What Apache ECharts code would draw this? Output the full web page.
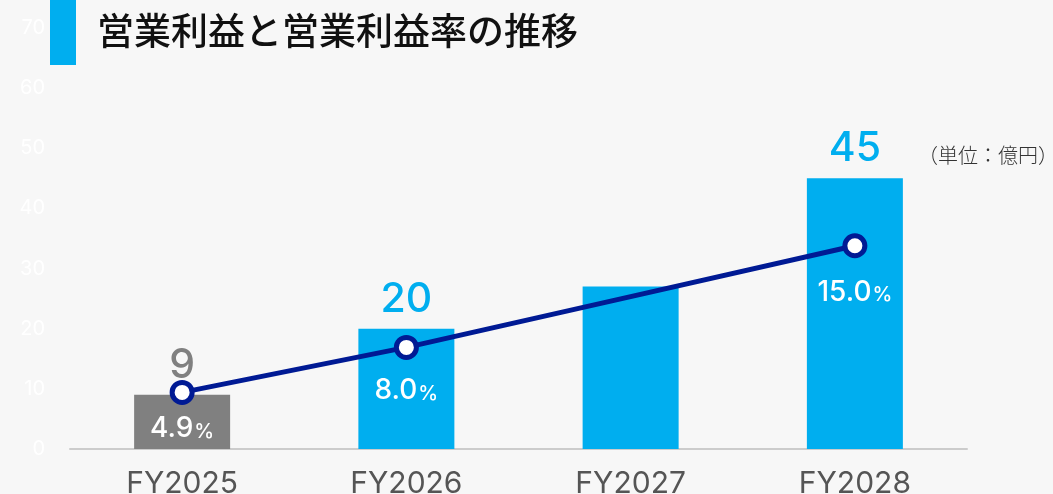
<!DOCTYPE html>
<html>
<head>
<meta charset="utf-8">
<script src="https://cdn.jsdelivr.net/npm/echarts@6/dist/echarts.min.js"></script>
<style>
  html, body { margin: 0; padding: 0; background: #f7f7f7; }
  #chart { width: 1053px; height: 494px; }
</style>
</head>
<body>
<div id="chart"></div>
<script>
const categories = ["FY2025", "FY2026", "FY2027", "FY2028"];
const profit = [9, 20, 27, 45];
const margin = [4.9, 8.0, 11.5, 15.0];
const showProfitLabel = [true, true, false, true];
const showMarginLabel = [true, true, false, true];
const yTicks = [0, 10, 20, 30, 40, 50, 60, 70];

const BLUE = "#00aeef";
const GREY = "#808080";
const NAVY = "#001a94";
const NUM_FONT = "Inter, 'Noto Sans', sans-serif";

const marginDist = [10, 17, 0, 20];

const barData = profit.map((v, i) => ({
  value: v,
  itemStyle: { color: i === 0 ? GREY : BLUE },
  label: {
    show: showProfitLabel[i],
    color: i === 0 ? GREY : BLUE
  }
}));

const lineData = margin.map((v, i) => ({
  value: v,
  symbolSize: showMarginLabel[i] ? 20 : 0,
  label: { show: showMarginLabel[i], distance: marginDist[i] }
}));

const chart = echarts.init(document.getElementById("chart"));
chart.setOption({
  backgroundColor: "#f7f7f7",
  animation: false,
  title: {
    text: "営業利益と営業利益率の推移",
    left: 92,
    top: 7,
    textStyle: {
      fontFamily: "'Noto Sans CJK JP', sans-serif",
      fontSize: 37,
      fontWeight: 500,
      color: "#111"
    }
  },
  graphic: [
    { type: "rect", left: 50, top: 0, shape: { width: 26, height: 65 }, style: { fill: BLUE } },
    {
      type: "text", left: 918, top: 145,
      style: {
        text: "（単位：億円）",
        font: "300 20px 'Noto Sans CJK JP', sans-serif",
        fill: "#333"
      }
    }
  ],
  grid: { left: 70, right: 86, top: 28, bottom: 45, outerBoundsMode: "none" },
  xAxis: {
    type: "category",
    data: categories,
    axisLine: { lineStyle: { color: "#cccccc", width: 2 } },
    axisTick: { show: false },
    axisLabel: {
      color: "#555",
      fontSize: 30,
      fontFamily: NUM_FONT,
      margin: 20
    }
  },
  yAxis: [
    {
      type: "value",
      min: yTicks[0],
      max: yTicks[yTicks.length - 1],
      interval: 10,
      splitLine: { show: false },
      axisLine: { show: false },
      axisTick: { show: false },
      axisLabel: { color: "#ffffff", fontSize: 20, fontFamily: NUM_FONT, margin: 25 }
    },
    {
      type: "value",
      min: 1,
      max: 30,
      show: false
    }
  ],
  series: [
    {
      type: "bar",
      data: barData,
      barWidth: 96,
      label: {
        show: true,
        position: "top",
        distance: 9,
        fontSize: 41,
        fontFamily: NUM_FONT,
        fontWeight: 500
      }
    },
    {
      type: "line",
      yAxisIndex: 1,
      data: lineData,
      symbol: "circle",
      lineStyle: { color: NAVY, width: 5 },
      itemStyle: { color: "#ffffff", borderColor: NAVY, borderWidth: 5 },
      label: {
        show: true,
        position: "bottom",
        formatter: (p) => "{n|" + p.value.toFixed(1) + "}{p|%}",
        rich: {
          n: { color: "#fff", fontSize: 28, fontFamily: NUM_FONT, fontWeight: 500 },
          p: { color: "#fff", fontSize: 20, fontFamily: NUM_FONT, fontWeight: 500, padding: [6, 0, 0, 1] }
        }
      },
      z: 5
    }
  ]
});
</script>
</body>
</html>
